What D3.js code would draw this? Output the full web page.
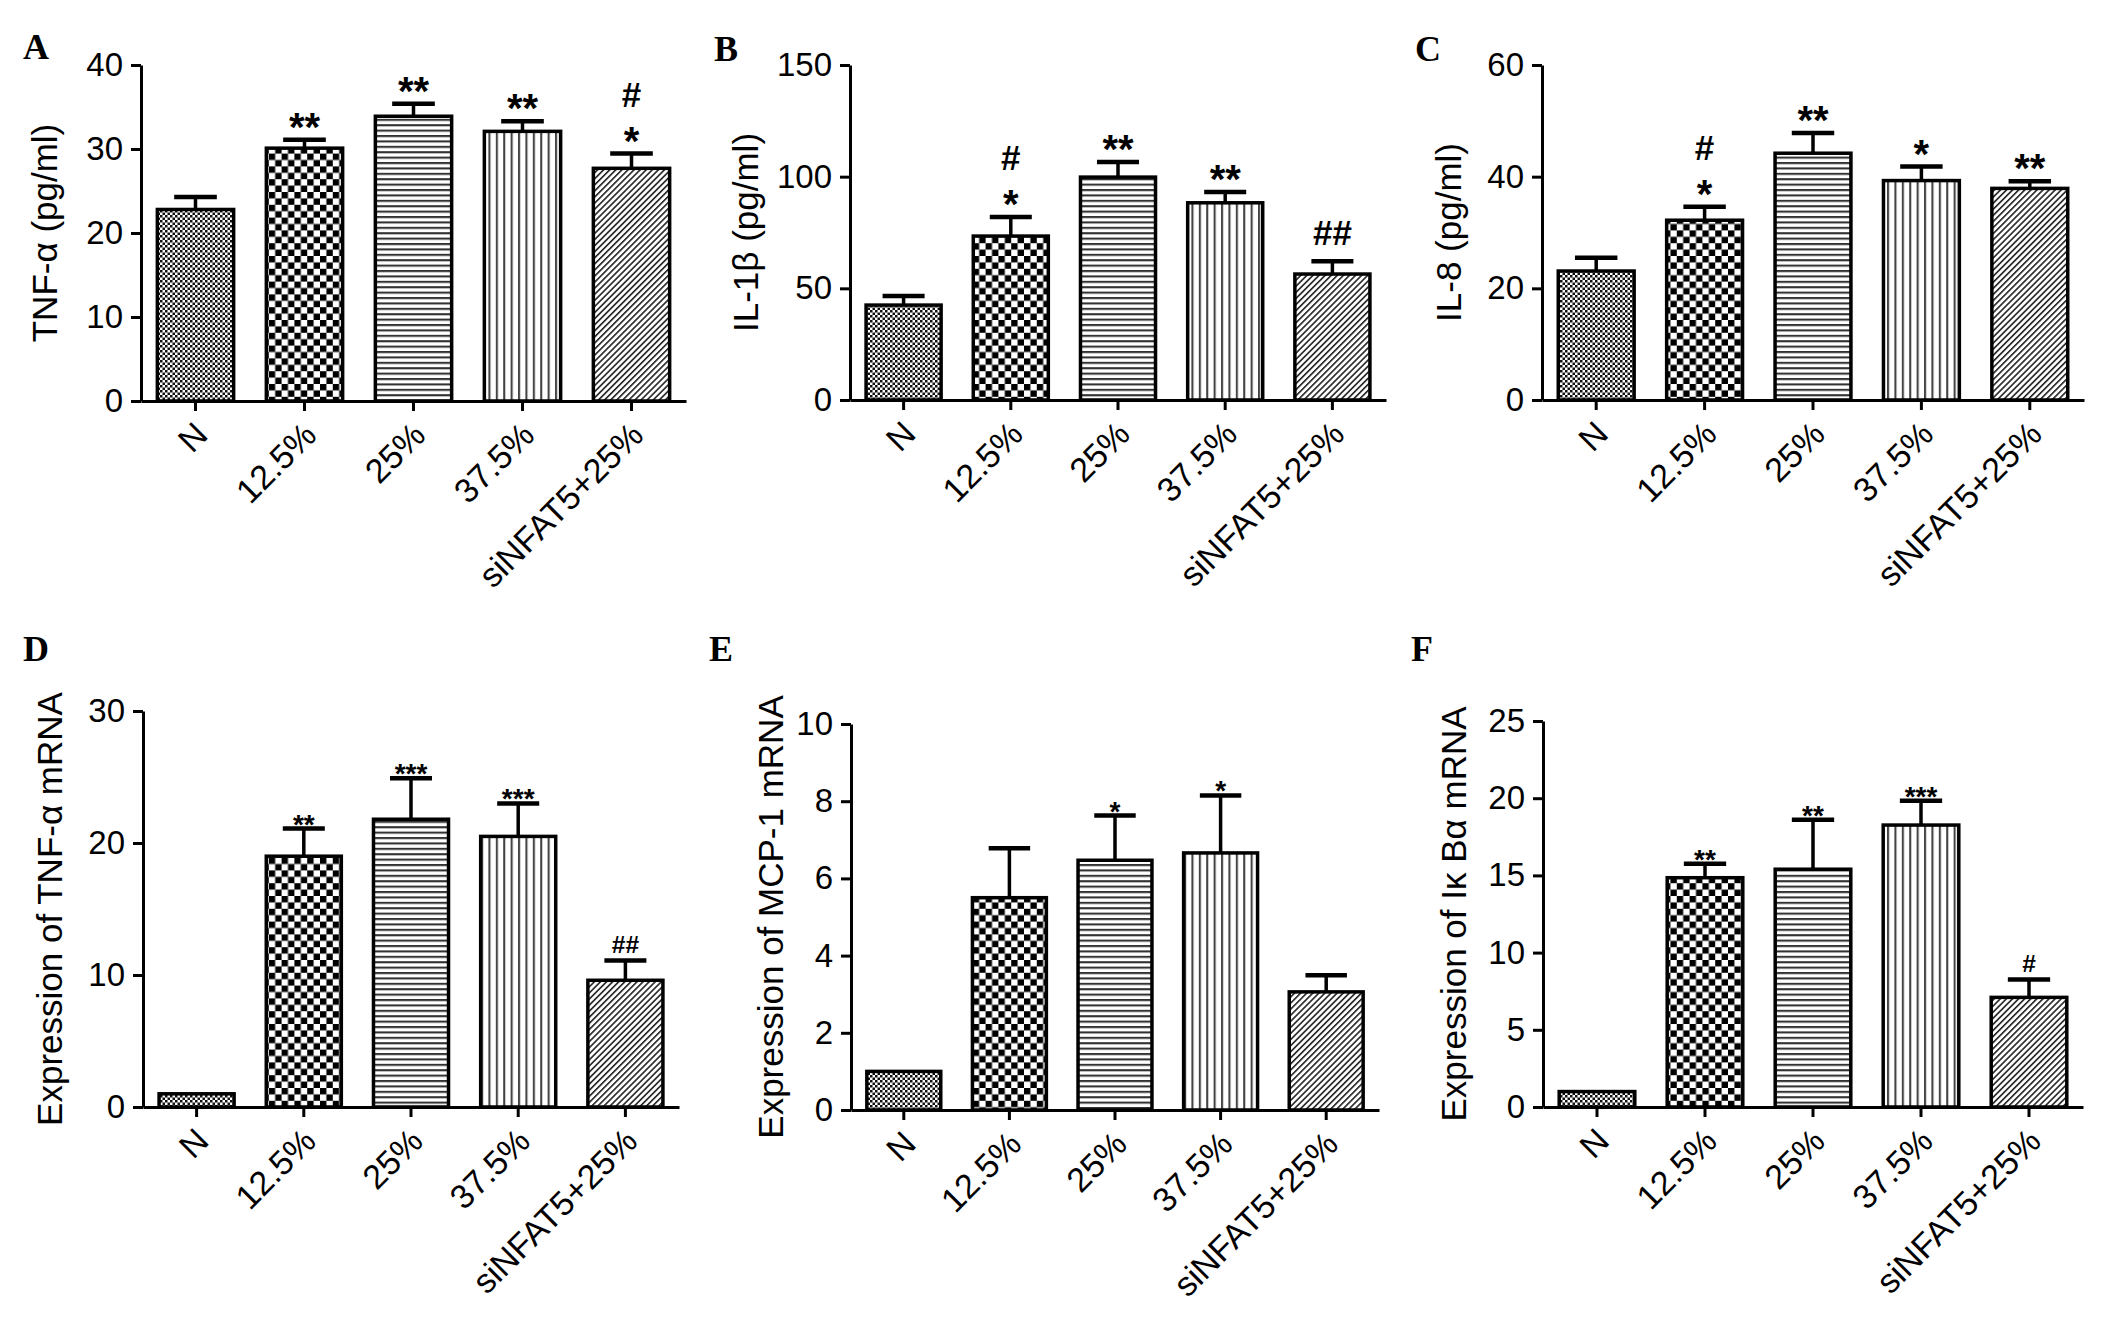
<!DOCTYPE html>
<html><head><meta charset="utf-8">
<script src="https://cdn.jsdelivr.net/npm/d3@7"></script>
<style>
body{margin:0;background:#fff}
svg text{font-family:"Liberation Sans",Arial,Helvetica,sans-serif;fill:#000}
</style>
</head><body>
<svg id="chart" width="2126" height="1330"></svg>
<script>
// ---------- DATA ----------
const categories = ["N", "12.5%", "25%", "37.5%", "siNFAT5+25%"];

const tnfProtein    = [22.8, 30.1, 33.9, 32.1, 27.7];
const tnfProteinErr = [1.5, 1.0, 1.5, 1.2, 1.75];
const tnfProteinMarks = [[], ["**"], ["**"], ["**"], ["#", "*"]];
const tnfProteinTicks = [0, 10, 20, 30, 40];

const il1bProtein    = [42.5, 73.4, 99.8, 88.3, 56.4];
const il1bProteinErr = [4.1, 8.5, 6.8, 4.8, 5.7];
const il1bProteinMarks = [[], ["#", "*"], ["**"], ["**"], ["##"]];
const il1bProteinTicks = [0, 50, 100, 150];

const il8Protein    = [23.1, 32.2, 44.2, 39.3, 37.9];
const il8ProteinErr = [2.4, 2.4, 3.6, 2.5, 1.3];
const il8ProteinMarks = [[], ["#", "*"], ["**"], ["*"], ["**"]];
const il8ProteinTicks = [0, 20, 40, 60];

const tnfMrna    = [1.0, 19.0, 21.8, 20.5, 9.6];
const tnfMrnaErr = [0, 2.1, 3.1, 2.5, 1.5];
const tnfMrnaMarks = [[], ["**"], ["***"], ["***"], ["##"]];
const tnfMrnaTicks = [0, 10, 20, 30];

const mcp1Mrna    = [1.0, 5.5, 6.47, 6.66, 3.06];
const mcp1MrnaErr = [0, 1.28, 1.16, 1.49, 0.43];
const mcp1MrnaMarks = [[], [], ["*"], ["*"], []];
const mcp1MrnaTicks = [0, 2, 4, 6, 8, 10];

const ikbaMrna    = [1.0, 14.85, 15.4, 18.26, 7.1];
const ikbaMrnaErr = [0, 0.9, 3.2, 1.58, 1.16];
const ikbaMrnaMarks = [[], ["**"], ["**"], ["***"], ["#"]];
const ikbaMrnaTicks = [0, 5, 10, 15, 20, 25];

const panelLetters = ["A", "B", "C", "D", "E", "F"];
const panelTitles = ["TNF-α (pg/ml)", "IL-1β (pg/ml)", "IL-8 (pg/ml)",
  "Expression of TNF-α mRNA", "Expression of MCP-1 mRNA", "Expression of Iκ Bα mRNA"];
const panelValues = [tnfProtein, il1bProtein, il8Protein, tnfMrna, mcp1Mrna, ikbaMrna];
const panelErrors = [tnfProteinErr, il1bProteinErr, il8ProteinErr, tnfMrnaErr, mcp1MrnaErr, ikbaMrnaErr];
const panelMarks = [tnfProteinMarks, il1bProteinMarks, il8ProteinMarks, tnfMrnaMarks, mcp1MrnaMarks, ikbaMrnaMarks];
const panelTicks = [tnfProteinTicks, il1bProteinTicks, il8ProteinTicks, tnfMrnaTicks, mcp1MrnaTicks, ikbaMrnaTicks];

// ---------- LAYOUT (positions / styles) ----------
const layout = [
  {x0: 141, x1: 686,  yTop: 65,  y0: 401,  lx: 23,   ly: 59,  titleOff: 84, s: 1},
  {x0: 850, x1: 1386, yTop: 65,  y0: 400,  lx: 714,  ly: 61,  titleOff: 92, s: 1},
  {x0: 1542, x1: 2084, yTop: 65, y0: 400,  lx: 1415, ly: 61,  titleOff: 81, s: 1},
  {x0: 143, x1: 679,  yTop: 711, y0: 1107, lx: 23,   ly: 661, titleOff: 81, s: 0.7},
  {x0: 851, x1: 1379, yTop: 724, y0: 1110, lx: 709,  ly: 661, titleOff: 68, s: 0.7},
  {x0: 1543, x1: 2083, yTop: 721, y0: 1107, lx: 1411, ly: 661, titleOff: 77, s: 0.7}
];

const svg = d3.select("#chart");
svg.append("rect").attr("width", 2126).attr("height", 1330).attr("fill", "#fff");

// ---------- PATTERNS ----------
const defs = svg.append("defs");
function pat(id, w, h, build, transform) {
  const p = defs.append("pattern").attr("id", id).attr("patternUnits", "userSpaceOnUse")
    .attr("width", w).attr("height", h);
  if (transform) p.attr("patternTransform", transform);
  p.append("rect").attr("width", w).attr("height", h).attr("fill", "#fff");
  build(p);
}
pat("pat0", 5, 5, p => {
  p.append("rect").attr("x", 0).attr("y", 0).attr("width", 2.5).attr("height", 2.5).attr("fill", "#111");
  p.append("rect").attr("x", 2.5).attr("y", 2.5).attr("width", 2.5).attr("height", 2.5).attr("fill", "#111");
});
pat("pat1", 12.8, 12.8, p => {
  p.append("rect").attr("x", 0).attr("y", 0).attr("width", 6.4).attr("height", 6.4).attr("fill", "#000");
  p.append("rect").attr("x", 6.4).attr("y", 6.4).attr("width", 6.4).attr("height", 6.4).attr("fill", "#000");
});
pat("pat2", 10, 5.4, p => {
  p.append("rect").attr("x", 0).attr("y", 0).attr("width", 10).attr("height", 2.1).attr("fill", "#333");
});
pat("pat3", 7.4, 10, p => {
  p.append("rect").attr("x", 0).attr("y", 0).attr("width", 2.1).attr("height", 10).attr("fill", "#444");
});
pat("pat4", 4.3, 10, p => {
  p.append("rect").attr("x", 0).attr("y", 0).attr("width", 1.6).attr("height", 10).attr("fill", "#222");
}, "rotate(45)");

// ---------- PANELS ----------
panelValues.forEach((values, pi) => {
  const L = layout[pi];
  const errors = panelErrors[pi];
  const marks = panelMarks[pi];
  const ticks = panelTicks[pi];
  const g = svg.append("g");

  const x = d3.scaleBand().domain(categories).range([L.x0, L.x1])
    .paddingInner(0.3).paddingOuter(0.15);
  const y = d3.scaleLinear().domain([0, d3.max(ticks)]).range([L.y0, L.yTop]);

  // bars
  g.selectAll("rect.bar").data(values).join("rect").attr("class", "bar")
    .attr("x", (d, i) => x(categories[i]))
    .attr("y", d => y(d))
    .attr("width", x.bandwidth())
    .attr("height", d => y(0) - y(d))
    .attr("fill", (d, i) => `url(#pat${i})`)
    .attr("stroke", "#000").attr("stroke-width", 3.5);

  // error bars (upper only)
  const capW = x.bandwidth() * 0.5;
  const eb = g.selectAll("g.err").data(values.map((v, i) => ({v, e: errors[i], c: categories[i]})).filter(d => d.e > 0))
    .join("g").attr("class", "err");
  eb.append("line")
    .attr("x1", d => x(d.c) + x.bandwidth() / 2).attr("x2", d => x(d.c) + x.bandwidth() / 2)
    .attr("y1", d => y(d.v)).attr("y2", d => y(d.v + d.e))
    .attr("stroke", "#000").attr("stroke-width", 3.5);
  eb.append("line")
    .attr("x1", d => x(d.c) + x.bandwidth() / 2 - capW / 2).attr("x2", d => x(d.c) + x.bandwidth() / 2 + capW / 2)
    .attr("y1", d => y(d.v + d.e)).attr("y2", d => y(d.v + d.e))
    .attr("stroke", "#000").attr("stroke-width", 4.5).attr("stroke-linecap", "square");

  // significance marks
  values.forEach((v, i) => {
    const lines = marks[i];
    if (!lines.length) return;
    const cx = x(categories[i]) + x.bandwidth() / 2;
    let cursor = y(v + (errors[i] || 0)) - (L.s === 1 ? 16 : 7);
    for (let k = lines.length - 1; k >= 0; k--) {
      const t = lines[k];
      const isStar = t.indexOf("*") >= 0;
      const fs = (isStar ? 40 : 35) * L.s;
      const base = isStar ? cursor + 0.43 * fs : cursor;
      g.append("text").attr("x", cx).attr("y", base).attr("text-anchor", "middle")
        .style("font-size", fs + "px").style("font-weight", "bold").text(t);
      cursor = base - 0.72 * fs - 19 * L.s;
    }
  });

  // y axis
  const ya = g.append("g").attr("transform", `translate(${L.x0},0)`)
    .call(d3.axisLeft(y).tickValues(ticks).tickSize(10).tickPadding(8).tickSizeOuter(0));
  ya.attr("font-size", null).attr("font-family", null);
  ya.selectAll("path,line").attr("stroke", "#000").attr("stroke-width", 3);
  ya.selectAll("text").style("font-size", "33px").attr("fill", "#000");

  // x axis
  const xa = g.append("g").attr("transform", `translate(0,${L.y0})`)
    .call(d3.axisBottom(x).tickSize(10).tickSizeOuter(0));
  xa.attr("font-size", null).attr("font-family", null);
  xa.selectAll("path,line").attr("stroke", "#000").attr("stroke-width", 3);
  xa.selectAll("text").attr("x", 0).attr("y", 0).attr("dy", 0)
    .attr("text-anchor", "end").attr("transform", "translate(14,36) rotate(-45)")
    .style("font-size", "34px").attr("fill", "#000");

  // y title
  g.append("text")
    .attr("transform", `translate(${L.x0 - L.titleOff},${(L.yTop + L.y0) / 2}) rotate(-90)`)
    .attr("text-anchor", "middle").style("font-size", "35px").text(panelTitles[pi]);

  // panel letter
  g.append("text").attr("x", L.lx).attr("y", L.ly)
    .style("font-family", '"Liberation Serif","Times New Roman",serif')
    .style("font-weight", "bold").style("font-size", "36px").text(panelLetters[pi]);
});
</script>
</body></html>
